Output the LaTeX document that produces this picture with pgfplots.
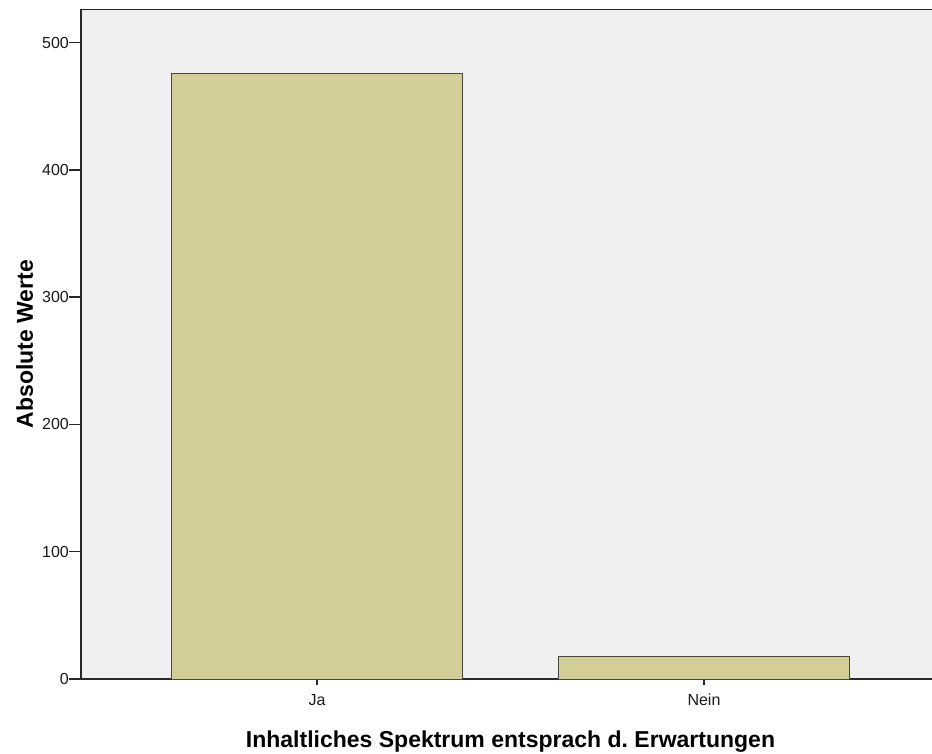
\documentclass[border=0pt]{standalone}
\usepackage{pgfplots}
\pgfplotsset{compat=1.18}
\usepackage{fontspec}
\setmainfont{Liberation Sans}
\definecolor{bg}{RGB}{239,239,239}
\definecolor{barfill}{RGB}{211,206,151}
\definecolor{barline}{RGB}{70,70,60}
\definecolor{axline}{RGB}{40,40,40}
\begin{document}
\frenchspacing
\begin{tikzpicture}[x=1pt,y=1pt]
\clip (0,0) rectangle (932,753);
\fill[white] (0,0) rectangle (932,753);
\begin{axis}[
  at={(81pt,74pt)}, anchor=south west,
  scale only axis,
  width=859pt, height=669.5pt,
  xmin=-0.61, xmax=1.61,
  ymin=0, ymax=526,
  axis background/.style={fill=bg},
  axis line style={axline, line width=1.5pt},
  xtick={0,1}, xticklabels={Ja,Nein},
  ytick=\empty,
  tick align=outside,
  major tick length=6pt,
  tick style={axline, line width=1.4pt},
  xtick pos=bottom,
  tick label style={font=\fontsize{16}{19}\selectfont, text=black!90},
  xticklabel style={inner sep=0pt, yshift=-9pt},
  xlabel={Inhaltliches Spektrum entsprach d.\ Erwartungen},
  ylabel={Absolute Werte},
  every axis x label/.style={at={(axis description cs:0.5,-0.1016)}, anchor=base, font=\fontsize{23}{27}\selectfont\bfseries},
  every axis y label/.style={at={(axis description cs:-0.0559,0.5)}, rotate=90, anchor=base, font=\fontsize{23}{27}\selectfont\bfseries},
  clip=false,
]
\addplot[ybar, bar width=0.75, fill=barfill, draw=barline, line width=1pt]
  coordinates {(0,476) (1,18)};
\end{axis}
\begin{axis}[
  at={(81pt,74pt)}, anchor=south west,
  scale only axis,
  width=859pt, height=669.5pt,
  xmin=-0.61, xmax=1.61,
  ymin=0, ymax=526,
  axis line style={draw=none},
  xtick=\empty,
  ytick={0,100,200,300,400,500},
  ytick pos=left,
  tick align=outside,
  major tick length=12pt,
  tick style={axline, line width=1.4pt},
  /pgf/number format/assume math mode=true,
  tick label style={font=\fontsize{16}{19}\selectfont, text=black!90},
  yticklabel style={inner sep=0pt},
]
\end{axis}
\end{tikzpicture}
\end{document}
